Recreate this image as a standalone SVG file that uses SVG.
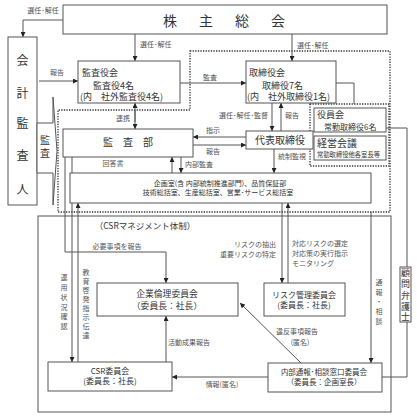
<svg xmlns="http://www.w3.org/2000/svg" width="417" height="417" viewBox="0 0 417 417">
<defs>
<marker id="ah" markerWidth="5" markerHeight="5" refX="5" refY="2.5" orient="auto" markerUnits="userSpaceOnUse"><path d="M0,0 L5,2.5 L0,5 z" fill="#222"/></marker>
<style>
text{font-family:"Noto Sans CJK JP","Noto Sans",sans-serif;fill:#333}
.box{fill:#fff;stroke:#555;stroke-width:1}
.dot{fill:none;stroke:#333;stroke-width:1.3;stroke-dasharray:1.3,1.3}
.ln{fill:none;stroke:#555;stroke-width:1}
.ar{fill:none;stroke:#555;stroke-width:1;marker-end:url(#ah)}
.lb{font-size:7px;fill:#555}
.t9{font-size:9px}
.t8{font-size:8px}
.mid{text-anchor:middle}
</style>
</defs>
<rect width="417" height="417" fill="#fff"/>
<path class="dot" d="M190,51 H390 V212 H58 V110 H190 Z"/>
<rect class="dot" x="310" y="104" width="79" height="62"/>
<g id="csr-area">
<rect x="38" y="216" width="353" height="196" style="fill:none;stroke:#555;stroke-width:1"/>
<text class="mid" style="font-size:8.5px" x="145" y="229">（CSRマネジメント体制）</text>
</g>
<g id="connectors">
<polyline class="ar" points="63,20 23,20 23,37"/>
<text class="lb mid" x="43" y="13">選任･解任</text>
<line class="ar" x1="135" y1="34" x2="135" y2="61"/>
<text class="lb" x="140" y="47">選任･解任</text>
<line class="ar" x1="292" y1="34" x2="292" y2="61"/>
<text class="lb" x="297" y="48">選任･解任</text>
<line class="ar" x1="39" y1="81" x2="78" y2="81"/>
<text class="lb mid" x="57" y="75">報告</text>
<line class="ar" x1="180" y1="83" x2="246" y2="83"/>
<text class="lb" x="203" y="80">監査</text>
<line class="ar" x1="135" y1="110" x2="135" y2="129"/>
<line class="ar" x1="135" y1="122" x2="135" y2="103"/>
<text class="lb mid" x="123" y="121">連携</text>
<line class="ar" x1="272" y1="103" x2="272" y2="131"/>
<line class="ar" x1="281" y1="131" x2="281" y2="103"/>
<text class="lb" x="268" y="118" text-anchor="end">選任･解任･監督</text>
<text class="lb" x="285" y="118">報告</text>
<line class="ar" x1="246" y1="137" x2="193" y2="137"/>
<text class="lb mid" x="213" y="133">指示</text>
<line class="ar" x1="193" y1="145" x2="246" y2="145"/>
<text class="lb mid" x="213" y="154">報告</text>
<line class="ar" x1="172" y1="173" x2="172" y2="157"/>
<line class="ar" x1="181" y1="157" x2="181" y2="173"/>
<text class="lb mid" x="113" y="166">回答書</text>
<text class="lb" x="185" y="167">内部監査</text>
<line class="ar" x1="274" y1="149" x2="274" y2="173"/>
<text class="lb" x="278" y="159">統制監視</text>
<polyline class="ln" points="336,83 354,83 354,104"/>
<polyline class="ln" points="386,128 407,128 407,267"/>
<polyline class="ln" points="407,322 407,377 382,377"/>
<polyline class="ar" points="65,157 65,252 166,252 166,283"/>
<text class="lb mid" x="117" y="249">必要事項を報告</text>
<line class="ar" x1="72" y1="157" x2="72" y2="362"/>
<line class="ar" x1="78" y1="362" x2="78" y2="203"/>
<text class="lb mid" x="64 64 64 64 64 64" y="280 290 300 310 319 329">運用状況確認</text>
<text class="lb mid" x="86 86 86 86 86 86 86 86" y="275 284 293 302 311 320 329 338">教育啓発指示伝達</text>
<line class="ar" x1="282" y1="203" x2="282" y2="283"/>
<line class="ar" x1="288" y1="283" x2="288" y2="203"/>
<text class="lb" x="276" y="247" text-anchor="end">リスクの抽出</text>
<text class="lb" x="276" y="257" text-anchor="end">重要リスクの特定</text>
<text class="lb" x="292" y="246">対応リスクの選定</text>
<text class="lb" x="292" y="256">対応策の実行指示</text>
<text class="lb" x="292" y="266">モニタリング</text>
<line class="ar" x1="371" y1="212" x2="371" y2="363"/>
<text class="lb mid" x="379 379 379 379 379" y="285 295 304 314 324">通報・相談</text>
<line class="ar" x1="166" y1="362" x2="166" y2="316"/>
<text class="lb" x="168" y="345">活動成果報告</text>
<line class="ar" x1="301" y1="363" x2="240" y2="303"/>
<text class="lb mid" x="297" y="334">違反事項報告</text>
<text class="lb mid" x="300" y="345">(匿名)</text>
<line class="ar" x1="268" y1="377" x2="172" y2="377"/>
<text class="lb mid" x="222" y="387">情報(匿名)</text>
</g>
<g id="shareholders">
<rect class="box" x="63" y="5" width="324" height="29"/>
<text class="mid" style="font-size:14px" x="170 206 242 278" y="26">株主総会</text>
</g>
<g id="auditor">
<rect class="box" x="8" y="37" width="29" height="168"/>
<text class="mid" style="font-size:12px" x="22.5 22.5 22.5 22.5 22.5" y="65 98 128 160 194">会計監査人</text>
</g>
<g id="audit-arrow">
<path class="box" d="M37,123 H53 V97 L57,151 L53,205 V173 H37 Z"/>
<text class="mid" style="font-size:10px" x="45 45" y="144 157">監査</text>
</g>
<g id="kansayakukai">
<rect class="box" x="78" y="61" width="102" height="42"/>
<text class="t9" x="82" y="76">監査役会</text>
<text class="t9" x="93" y="88.5">監査役4名</text>
<text class="t9" x="80" y="100">(内　社外監査役4名)</text>
</g>
<g id="torishimariyakukai">
<rect class="box" x="246" y="61" width="90" height="42"/>
<text class="t9" x="249" y="76">取締役会</text>
<text class="t9" x="262" y="88.5">取締役7名</text>
<text class="t9" x="247" y="100">(内　社外取締役1名)</text>
</g>
<g id="kansabu">
<rect class="box" x="63" y="129" width="130" height="28"/>
<text class="mid" style="font-size:10px" x="128" y="146">監　査　部</text>
</g>
<g id="daihyo">
<rect class="box" x="246" y="131" width="67" height="18"/>
<text class="mid" style="font-size:10px" x="280" y="144">代表取締役</text>
</g>
<g id="yakuinkai">
<rect class="box" x="314" y="108" width="72" height="24"/>
<text class="t9" x="317" y="118">役員会</text>
<text class="t8" x="324" y="129.5">常勤取締役6名</text>
</g>
<g id="keieikaigi">
<rect class="box" x="314" y="136" width="72" height="24"/>
<text style="font-size:10px" x="317" y="147">経営会議</text>
<text style="font-size:6.3px" x="317" y="157">常勤取締役他各室長等</text>
</g>
<g id="kikakushitsu">
<rect class="box" x="70" y="173" width="301" height="30"/>
<text class="mid" style="font-size:7px" x="220" y="186">企画室(含 内部統制推進部門)、品質保証部</text>
<text class="mid" style="font-size:7px" x="218" y="195">技術総括室、生産総括室、営業･サービス総括室</text>
</g>
<g id="kigyorinri">
<rect class="box" x="97" y="283" width="141" height="33"/>
<text class="mid" style="font-size:8.8px" x="167" y="296.5">企業倫理委員会</text>
<text class="mid" style="font-size:8.8px" x="167" y="308.5">（委員長：社長）</text>
</g>
<g id="risk">
<rect class="box" x="264" y="283" width="81" height="33"/>
<text class="t8 mid" x="304" y="298">リスク管理委員会</text>
<text class="t8 mid" x="304" y="308">(委員長：社長)</text>
</g>
<g id="csr">
<rect class="box" x="48" y="362" width="124" height="29"/>
<text class="t8 mid" x="110" y="374">CSR委員会</text>
<text class="t8 mid" x="110" y="384">(委員長：社長)</text>
</g>
<g id="naibutsuho">
<rect class="box" x="268" y="363" width="114" height="29"/>
<text class="mid" style="font-size:7.5px" x="324" y="374.5">内部通報･相談窓口委員会</text>
<text class="mid" style="font-size:7.5px" x="324" y="384.5">（委員長：企画室長）</text>
</g>
<g id="bengoshi">
<rect class="box" x="400" y="267" width="11" height="55"/>
<text class="mid" style="font-size:9px" x="405.5 405.5 405.5 405.5 405.5" y="276 287 299 310 320">顧問弁護士</text>
</g>
</svg>
